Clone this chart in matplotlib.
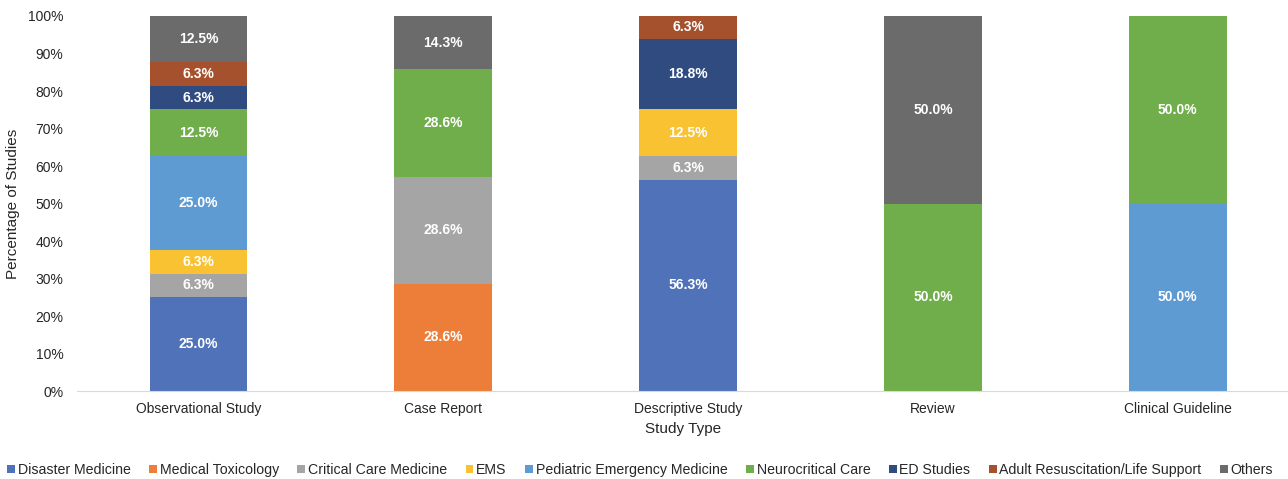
import matplotlib.pyplot as plt
import numpy as np

plt.rcParams['font.family'] = ['Liberation Sans', 'DejaVu Sans']

study_types = ["Observational Study", "Case Report", "Descriptive Study", "Review", "Clinical Guideline"]
categories = ["Disaster Medicine", "Medical Toxicology", "Critical Care Medicine", "EMS",
              "Pediatric Emergency Medicine", "Neurocritical Care", "ED Studies",
              "Adult Resuscitation/Life Support", "Others"]
colors = ["#4f72b8", "#ec7e3a", "#a5a5a5", "#f8c232", "#5e9bd3", "#6fae4a", "#2f4b7f", "#a5512d", "#6b6b6b"]

# percent per category, one entry per study type
disaster = [25.0, 0, 56.3, 0, 0]
toxicology = [0, 28.6, 0, 0, 0]
critical_care = [6.3, 28.6, 6.3, 0, 0]
ems = [6.3, 0, 12.5, 0, 0]
pediatric = [25.0, 0, 0, 0, 50.0]
neuro = [12.5, 28.6, 0, 50.0, 50.0]
ed_studies = [6.3, 0, 18.8, 0, 0]
adult_resus = [6.3, 0, 6.3, 0, 0]
others = [12.5, 14.3, 0, 50.0, 0]

series = [disaster, toxicology, critical_care, ems, pediatric, neuro, ed_studies, adult_resus, others]

fig = plt.figure(figsize=(12.88, 4.79), dpi=100)
ax = fig.add_axes([0.06, 0.1837, 0.94, 0.7829])

x = np.arange(len(study_types))
bottom = np.zeros(len(study_types))
for name, vals, col in zip(categories, series, colors):
    vals = np.array(vals)
    ax.bar(x, vals, 0.4, bottom=bottom, color=col, label=name)
    for xi, v, b in zip(x, vals, bottom):
        if v > 0:
            ax.text(xi, min(b + v / 2, (b + 100) / 2), "%.1f%%" % v, ha="center", va="center",
                    color="white", fontsize=10, fontweight="bold")
    bottom += vals

ax.set_xlim(-0.495, 4.45)
ax.set_ylim(0, 100)
ax.set_yticks(np.arange(0, 101, 10))
ax.set_yticklabels(["%d%%" % v for v in range(0, 101, 10)])
ax.set_xticks(x)
ax.set_xticklabels(study_types)
ax.tick_params(axis="both", length=0, labelsize=10, colors="#262626")
ax.tick_params(axis="y", pad=10)
ax.tick_params(axis="x", pad=8)
for s in ["top", "right", "left"]:
    ax.spines[s].set_visible(False)
ax.spines["bottom"].set_color("#d9d9d9")

ax.set_xlabel("Study Type", fontsize=11, color="#262626", labelpad=4)
ax.set_ylabel("Percentage of Studies", fontsize=11, color="#262626", labelpad=6)

handles, labels = ax.get_legend_handles_labels()
fig.legend(handles, labels, loc="center", bbox_to_anchor=(0.497, 0.019), ncol=9, frameon=False, fontsize=10.2,
           handlelength=0.55, handleheight=0.55, handletextpad=0.2, columnspacing=1.3, labelcolor="#262626",
           borderpad=0, borderaxespad=0)

fig.savefig("out.png", dpi=100)
